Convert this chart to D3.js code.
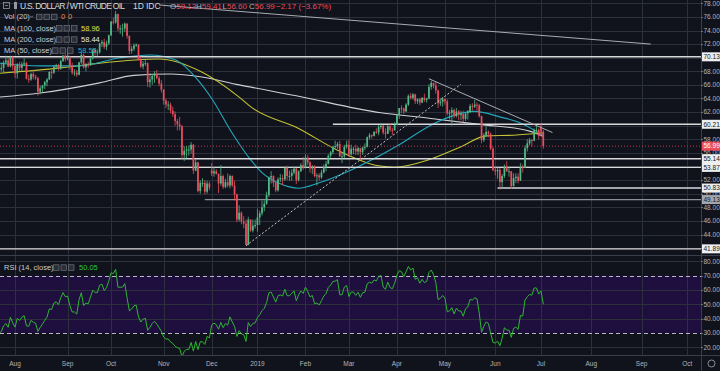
<!DOCTYPE html>
<html>
<head>
<meta charset="utf-8">
<script src="https://cdn.jsdelivr.net/npm/d3@7"></script>
<style>
  html, body { margin: 0; padding: 0; background: #10131c; }
  svg { display: block; font-family: "Liberation Sans", Arial, sans-serif; }
  .axis-text { fill: #b2b5be; font-size: 6.5px; }
  .legend { fill: #c8cad0; font-size: 7.5px; }
</style>
</head>
<body>
<script>
// ---- data (daily bars, trading days from 2018-07-23 to 2019-07-02) ----

// closes of the 14 sessions before the first visible bar, only used to seed RSI(14)
const warmupCloses = [74.1, 74.1, 72.9, 73.8, 73.9, 74.1, 70.4, 70.3, 71.0, 68.1, 68.1, 68.8, 69.5, 70.5];

const opens = [
  70.5, 68.3, 68.5, 69.3, 69.6, 68.7, 70.1,
  68.8, 67.7, 69.0, 68.5, 69.0, 69.2, 66.9, 66.8, 67.6, 67.2, 67.0, 65.0, 65.5, 65.9, 66.4, 66.8, 67.9, 67.8, 68.7, 68.9, 68.5, 69.5, 70.3,
  69.8, 69.9, 68.7, 67.8, 67.8, 67.5, 69.3, 70.4, 68.6, 69.0, 68.9, 69.9, 71.1, 70.8, 70.8, 72.1, 72.3, 71.6, 72.1,
  73.3, 75.3, 75.2, 76.4, 74.3, 74.3, 74.3, 75.0, 73.2, 71.0, 71.3, 71.8, 71.9, 69.8, 68.7, 69.1, 69.2, 66.4, 66.8, 67.3, 67.6, 67.0, 66.2,
  65.3, 63.7, 63.1, 63.1, 62.2, 61.7, 60.7, 60.2, 59.9, 55.7, 56.3, 56.5, 56.5, 57.2, 53.4, 54.6, 50.4, 51.6, 51.6, 50.3, 51.5,
  53.4, 53.0, 53.3, 52.9, 51.5, 52.6, 51.0, 51.7, 51.2, 52.6, 51.2, 49.9, 46.2, 47.2, 45.9, 45.6, 42.5, 46.2, 44.6, 45.3,
  45.4, 46.5, 47.1, 48.0, 48.5, 49.8, 52.4, 52.6, 51.6, 50.5, 52.1, 52.3, 52.1, 53.8, 52.6, 52.6, 53.1, 53.7, 52.0, 53.3, 54.2,
  53.8, 55.3, 54.6, 53.7, 54.0, 52.6, 52.7, 52.4, 53.1, 53.9, 54.4, 55.6, 56.1, 56.9, 57.0, 57.3, 55.5, 55.5, 56.9,
  57.2, 55.8, 56.6, 56.6, 56.2, 56.7, 56.1, 56.8, 56.9, 58.3, 58.6, 58.5, 59.1, 59.0, 59.8, 60.0, 59.0, 58.8, 59.9, 59.4, 59.3,
  60.1, 61.6, 62.6, 62.5, 62.1, 63.1, 64.4, 64.1, 64.6, 63.6, 63.9, 63.4, 64.1, 63.8, 64.0, 65.7, 66.3, 65.9, 65.2, 63.3, 63.5,
  63.9, 63.6, 61.8, 61.9, 62.3, 61.4, 62.1, 61.7, 61.7, 61.0, 61.8, 62.0, 62.9, 62.8, 63.1, 63.0, 61.4, 57.9, 58.6, 59.1, 58.8, 56.6,
  53.5, 53.3, 53.5, 51.7, 52.6, 54.0, 53.3, 53.3, 51.1, 52.3, 52.5, 51.9, 53.9, 53.8, 56.7, 57.4, 57.9, 57.8, 59.4, 59.4,
  59.9, 59.13
];
const highs = [
  70.5, 69.3, 69.6, 70.3, 70.0, 70.3, 70.3,
  69.1, 69.2, 69.4, 69.4, 69.9, 69.4, 67.5, 67.8, 68.2, 67.5, 67.2, 65.9, 66.0, 66.6, 67.0, 68.0, 68.2, 68.9, 69.1, 69.1, 69.7, 70.4, 70.5,
  71.4, 70.3, 69.3, 68.3, 68.2, 69.4, 70.8, 70.6, 69.2, 69.4, 69.9, 71.3, 71.4, 71.2, 72.2, 72.6, 72.8, 72.5, 73.4,
  75.4, 75.9, 76.9, 76.5, 74.8, 75.0, 75.2, 75.1, 73.3, 71.7, 72.1, 72.1, 72.0, 70.2, 69.5, 69.7, 69.3, 67.7, 67.6, 68.0, 68.2, 67.3, 66.7,
  65.4, 64.0, 63.6, 63.4, 62.8, 62.1, 61.0, 61.3, 60.1, 57.0, 57.0, 57.1, 57.6, 57.3, 55.1, 54.7, 52.0, 52.3, 52.0, 51.9, 51.8,
  54.5, 53.9, 53.6, 53.0, 54.2, 52.8, 52.2, 53.0, 52.8, 52.7, 51.9, 50.0, 48.3, 47.4, 46.7, 46.2, 46.6, 46.2, 46.2, 46.2,
  47.8, 47.5, 49.0, 49.0, 50.3, 52.5, 53.3, 52.7, 51.7, 52.4, 52.9, 52.8, 54.0, 54.1, 53.4, 53.6, 54.0, 53.8, 53.4, 54.5, 55.4,
  55.8, 55.7, 54.8, 54.2, 54.2, 53.0, 53.0, 53.5, 54.3, 54.8, 55.8, 56.3, 57.0, 57.8, 57.6, 57.8, 56.1, 57.2, 57.8,
  57.9, 57.2, 56.9, 57.2, 56.9, 56.7, 56.9, 57.4, 58.4, 58.9, 58.7, 59.2, 59.6, 60.1, 60.4, 60.1, 59.6, 60.1, 60.4, 59.7, 60.5,
  61.7, 62.6, 63.0, 62.7, 63.3, 64.6, 64.8, 64.8, 64.7, 64.0, 64.1, 64.2, 64.7, 64.1, 66.1, 66.6, 66.3, 66.5, 65.3, 64.0, 64.2,
  64.0, 63.9, 62.3, 62.7, 62.5, 62.6, 62.3, 62.2, 62.2, 62.0, 62.3, 63.2, 63.3, 63.8, 63.4, 63.2, 61.5, 58.9, 59.9, 59.3, 59.0, 56.9,
  54.0, 53.9, 53.8, 52.9, 54.3, 54.8, 53.9, 53.3, 53.0, 53.0, 53.0, 54.5, 54.3, 57.1, 58.0, 58.2, 58.0, 59.6, 59.9, 59.6,
  60.3, 59.41
];
const lows = [
  67.9, 68.0, 67.8, 69.1, 68.6, 68.6, 68.2,
  67.0, 66.9, 68.0, 68.0, 68.8, 66.8, 66.3, 66.6, 66.8, 66.7, 64.4, 64.6, 64.9, 65.4, 65.8, 66.7, 66.9, 67.6, 68.3, 68.1, 68.2, 69.4, 69.4,
  69.6, 68.2, 67.5, 67.3, 67.2, 67.4, 69.1, 68.4, 68.0, 68.5, 68.8, 69.7, 70.3, 70.2, 70.6, 71.6, 71.3, 71.1, 71.9,
  73.2, 74.9, 75.0, 73.9, 73.5, 73.1, 73.8, 72.8, 70.5, 70.6, 71.0, 71.6, 69.6, 68.5, 68.3, 68.8, 65.7, 65.6, 66.0, 66.3, 66.8, 65.8, 64.9,
  63.1, 62.6, 62.3, 61.8, 61.3, 60.0, 59.3, 59.3, 55.1, 54.8, 55.2, 55.6, 55.9, 52.9, 53.3, 50.2, 50.0, 51.0, 49.9, 50.0, 50.5,
  52.6, 52.5, 52.8, 50.1, 51.2, 50.7, 50.8, 50.9, 50.8, 51.0, 49.0, 45.8, 45.9, 45.5, 44.9, 42.4, 42.4, 44.4, 44.3, 44.9,
  44.4, 45.4, 46.8, 47.4, 48.4, 49.5, 51.5, 51.0, 50.2, 50.3, 51.7, 51.3, 51.9, 52.0, 51.9, 51.9, 52.8, 51.4, 51.8, 53.2, 53.5,
  53.7, 54.2, 53.1, 52.9, 52.4, 51.2, 51.9, 52.2, 53.0, 53.3, 54.3, 55.3, 55.8, 56.5, 56.6, 55.4, 54.5, 55.2, 56.6,
  55.4, 55.6, 55.8, 55.7, 55.7, 55.1, 55.7, 56.4, 56.8, 58.0, 58.1, 58.4, 58.8, 58.6, 59.5, 58.7, 58.1, 58.8, 59.1, 58.6, 59.3,
  60.1, 61.0, 61.9, 61.7, 62.0, 62.9, 63.9, 63.8, 63.2, 63.2, 63.0, 63.3, 63.5, 63.4, 63.9, 65.3, 65.5, 64.7, 62.6, 62.9, 62.8,
  63.1, 61.5, 60.9, 60.0, 61.1, 61.2, 60.8, 60.8, 60.5, 60.7, 60.9, 61.9, 62.2, 62.6, 62.2, 61.2, 57.4, 57.6, 58.3, 58.3, 56.4, 53.3,
  52.7, 52.2, 50.6, 50.7, 52.3, 53.2, 52.5, 50.7, 51.1, 51.6, 51.5, 51.9, 53.1, 53.8, 56.2, 57.1, 56.9, 57.7, 58.9, 58.0,
  58.4, 56.60
];
const closes = [
  68.3, 68.5, 69.3, 69.6, 68.7, 70.1, 68.8,
  67.7, 69.0, 68.5, 69.0, 69.2, 66.9, 66.8, 67.6, 67.2, 67.0, 65.0, 65.5, 65.9, 66.4, 66.8, 67.9, 67.8, 68.7, 68.9, 68.5, 69.5, 70.3, 69.8,
  69.9, 68.7, 67.8, 67.8, 67.5, 69.3, 70.4, 68.6, 69.0, 68.9, 69.9, 71.1, 70.8, 70.8, 72.1, 72.3, 71.6, 72.1, 73.3,
  75.3, 75.2, 76.4, 74.3, 74.3, 74.3, 75.0, 73.2, 71.0, 71.3, 71.8, 71.9, 69.8, 68.7, 69.1, 69.2, 66.4, 66.8, 67.3, 67.6, 67.0, 66.2, 65.3,
  63.7, 63.1, 63.1, 62.2, 61.7, 60.7, 60.2, 59.9, 55.7, 56.3, 56.5, 56.5, 57.2, 53.4, 54.6, 50.4, 51.6, 51.6, 50.3, 51.5, 50.9,
  53.0, 53.3, 52.9, 51.5, 52.6, 51.0, 51.7, 51.2, 52.6, 51.2, 49.9, 46.2, 47.2, 45.9, 45.6, 42.5, 46.2, 44.6, 45.3, 45.4,
  46.5, 47.1, 48.0, 48.5, 49.8, 52.4, 52.6, 51.6, 50.5, 52.1, 52.3, 52.1, 53.8, 52.6, 52.6, 53.1, 53.7, 52.0, 53.3, 54.2, 53.8,
  55.3, 54.6, 53.7, 54.0, 52.6, 52.7, 52.4, 53.1, 53.9, 54.4, 55.6, 56.1, 56.9, 57.0, 57.3, 55.5, 55.5, 56.9, 57.2,
  55.8, 56.6, 56.6, 56.2, 56.7, 56.1, 56.8, 56.9, 58.3, 58.6, 58.5, 59.1, 59.0, 59.8, 60.0, 59.0, 58.8, 59.9, 59.4, 59.3, 60.1,
  61.6, 62.6, 62.5, 62.1, 63.1, 64.4, 64.1, 64.6, 63.6, 63.9, 63.4, 64.1, 63.8, 64.0, 65.7, 66.3, 65.9, 65.2, 63.3, 63.5, 63.9,
  63.6, 61.8, 61.9, 62.3, 61.4, 62.1, 61.7, 61.7, 61.0, 61.8, 62.0, 62.9, 62.8, 63.1, 63.0, 61.4, 57.9, 58.6, 59.1, 58.8, 56.6, 53.5,
  53.3, 53.5, 51.7, 52.6, 54.0, 53.3, 53.3, 51.1, 52.3, 52.5, 51.9, 53.9, 53.8, 56.7, 57.4, 57.9, 57.8, 59.4, 59.4, 58.5,
  59.16, 56.99
];

// moving averages (date, value)
const ma50 = [
  ["2018-07-23", 69.2], ["2018-08-16", 68.8], ["2018-09-11", 68.8], ["2018-10-05", 70.0], ["2018-10-24", 70.4],
  ["2018-11-08", 69.7], ["2018-11-23", 66.7], ["2018-12-03", 64.0], ["2018-12-14", 58.9], ["2018-12-27", 55.0],
  ["2019-01-04", 53.1], ["2019-01-15", 51.6], ["2019-01-23", 51.0], ["2019-01-29", 50.8], ["2019-02-11", 51.6],
  ["2019-03-04", 53.5], ["2019-03-21", 55.7], ["2019-04-02", 57.2], ["2019-04-23", 60.1], ["2019-05-03", 61.3],
  ["2019-05-20", 62.1], ["2019-06-05", 61.3], ["2019-06-18", 60.4], ["2019-07-02", 58.55]
];
const ma100 = [
  ["2018-07-23", 67.7], ["2018-08-29", 68.5], ["2018-09-24", 69.2], ["2018-10-30", 69.8], ["2018-11-26", 68.0],
  ["2018-12-19", 64.2], ["2018-12-27", 62.8], ["2019-01-29", 59.6], ["2019-02-22", 56.4], ["2019-03-20", 54.1],
  ["2019-03-29", 53.9], ["2019-04-22", 55.0], ["2019-05-10", 56.9], ["2019-05-28", 58.5], ["2019-06-13", 58.6],
  ["2019-07-02", 58.96]
];
const ma200 = [
  ["2018-07-23", 64.2], ["2018-08-16", 64.8], ["2018-09-24", 66.3], ["2018-10-15", 67.4], ["2018-11-06", 67.6],
  ["2018-11-26", 67.2], ["2018-12-19", 66.0], ["2019-01-28", 64.4], ["2019-03-21", 61.9], ["2019-04-22", 61.1],
  ["2019-05-22", 60.2], ["2019-06-24", 59.2], ["2019-07-02", 58.44]
];

// drawn levels: price and first date (null = whole width)
const levelPrices = [70.13, 60.21, 55.14, 53.87, 50.83, 49.13, 41.89];
const levelStarts = [null, "2019-02-20", null, null, "2019-06-04", "2018-11-28", null];

// drawn trend lines: [start, end] as [date, price]
const trendLines = [
  [["2018-10-30", 77.75], ["2019-09-09", 72.0]],
  [["2019-04-22", 66.9], ["2019-07-09", 59.0]]
];
const dashedTrend = [["2018-12-24", 42.35], ["2019-05-10", 66.1]];

const lastPrice = 56.99;
const priceTicks = d3.range(42, 79, 2);
const rsiTicks = [20, 30, 40, 50, 60, 70, 80];
const holidays = ["2018-09-03", "2018-11-22", "2018-12-25", "2019-01-01", "2019-01-21", "2019-02-18",
                  "2019-04-19", "2019-05-27", "2019-07-04", "2019-09-02"];
const monthNames = ["Jan","Feb","Mar","Apr","May","Jun","Jul","Aug","Sep","Oct","Nov","Dec"];

// ---- layout ----
const W = 720, H = 371;
const plotRight = 701;
const priceBottom = 255, rsiTop = 256, rsiBottom = 355;
const bg = "#10131c", gridCol = "#2c303b";
const upCol = "#53b987", downCol = "#eb4d5c";

// trading calendar (weekdays without exchange holidays)
const fmt = d3.utcFormat("%Y-%m-%d");
const days = d3.utcDays(new Date(Date.UTC(2018, 6, 23)), new Date(Date.UTC(2019, 10, 1)))
  .filter(d => d.getUTCDay() % 6 !== 0 && !holidays.includes(fmt(d)));
const dayIndex = new Map(days.map((d, i) => [fmt(d), i]));
const idx = s => dayIndex.get(s);

const x = d3.scaleLinear().domain([0, 307]).range([-1, 701.1]);
const y = d3.scaleLinear().domain([78, 44]).range([3.3, 234.5]);
const yr = d3.scaleLinear().domain([80, 20]).range([261.3, 347.3]);

const svg = d3.select("body").append("svg").attr("width", W).attr("height", H);
svg.append("rect").attr("width", W).attr("height", H).attr("fill", bg);

const defs = svg.append("defs");
defs.append("clipPath").attr("id", "clipPrice")
  .append("rect").attr("x", 0).attr("y", 0).attr("width", plotRight).attr("height", priceBottom);
defs.append("clipPath").attr("id", "clipRsi")
  .append("rect").attr("x", 0).attr("y", rsiTop).attr("width", plotRight).attr("height", rsiBottom - rsiTop);

// RSI band
svg.append("rect").attr("x", 0).attr("width", plotRight)
  .attr("y", yr(70)).attr("height", yr(30) - yr(70)).attr("fill", "#1e0f3f");

// month ticks
const monthTicks = days.filter((d, i) => i === 0 || d.getUTCMonth() !== days[i - 1].getUTCMonth())
  .filter(d => fmt(d) >= "2018-08-01")
  .map(d => ({ i: idx(fmt(d)), label: d.getUTCMonth() === 0 ? String(d.getUTCFullYear()) : monthNames[d.getUTCMonth()] }))
  .filter(t => x(t.i) < plotRight - 4);

const grid = svg.append("g").attr("stroke", gridCol).attr("stroke-width", 1);
grid.selectAll(".vg").data(monthTicks).join("line")
  .attr("x1", d => Math.round(x(d.i)) + 0.5).attr("x2", d => Math.round(x(d.i)) + 0.5)
  .attr("y1", 0).attr("y2", rsiBottom);
grid.selectAll(".hg").data(priceTicks).join("line")
  .attr("x1", 0).attr("x2", plotRight)
  .attr("y1", d => Math.round(y(d)) + 0.5).attr("y2", d => Math.round(y(d)) + 0.5);
grid.selectAll(".rg").data(rsiTicks.filter(v => v !== 70 && v !== 30)).join("line")
  .attr("x1", 0).attr("x2", plotRight)
  .attr("y1", d => Math.round(yr(d)) + 0.5).attr("y2", d => Math.round(yr(d)) + 0.5);

// RSI 70 / 30 dashed
svg.append("g").selectAll("line").data([70, 30]).join("line")
  .attr("x1", 0).attr("x2", plotRight)
  .attr("y1", d => Math.round(yr(d)) + 0.5).attr("y2", d => Math.round(yr(d)) + 0.5)
  .attr("stroke", "#b8b8c0").attr("stroke-dasharray", "4,3");

// pane separators
svg.append("line").attr("x1", 0).attr("x2", W).attr("y1", priceBottom + 0.5).attr("y2", priceBottom + 0.5).attr("stroke", "#3a3e4a");
svg.append("line").attr("x1", 0).attr("x2", W).attr("y1", rsiBottom + 0.5).attr("y2", rsiBottom + 0.5).attr("stroke", "#3a3e4a");
svg.append("line").attr("x1", plotRight + 0.5).attr("x2", plotRight + 0.5).attr("y1", 0).attr("y2", H).attr("stroke", "#3a3e4a");

const pricePane = svg.append("g").attr("clip-path", "url(#clipPrice)");

// moving averages
const maLine = d3.line().x(d => x(idx(d[0]))).y(d => y(d[1])).curve(d3.curveMonotoneX);
[[ma200, "#cfd0d4"], [ma100, "#c2c234"], [ma50, "#22a8bb"]].forEach(([data, col]) => {
  pricePane.append("path").datum(data).attr("d", maLine)
    .attr("fill", "none").attr("stroke", col).attr("stroke-width", 1.1);
});

// horizontal levels
pricePane.selectAll(".lvl").data(levelPrices).join("line")
  .attr("x1", (d, i) => levelStarts[i] ? x(idx(levelStarts[i])) : 0)
  .attr("x2", plotRight)
  .attr("y1", d => y(d)).attr("y2", d => y(d))
  .attr("stroke", d => d === 49.13 ? "#8d9099" : "#d9d9dc").attr("stroke-width", 1.4);

// last price line
pricePane.append("line").attr("x1", 0).attr("x2", plotRight)
  .attr("y1", y(lastPrice)).attr("y2", y(lastPrice))
  .attr("stroke", "#b8384a").attr("stroke-dasharray", "1,2");

// candles
const bars = closes.map((c, i) => ({ i, o: opens[i], h: highs[i], l: lows[i], c }));
const candles = pricePane.append("g");
candles.selectAll("line").data(bars).join("line")
  .attr("x1", d => x(d.i)).attr("x2", d => x(d.i))
  .attr("y1", d => y(d.h)).attr("y2", d => y(d.l))
  .attr("stroke", d => d.c >= d.o ? upCol : downCol).attr("stroke-width", 0.8);
candles.selectAll("rect").data(bars).join("rect")
  .attr("x", d => x(d.i) - 0.85).attr("width", 1.7)
  .attr("y", d => y(Math.max(d.o, d.c)))
  .attr("height", d => Math.max(1, Math.abs(y(d.o) - y(d.c))))
  .attr("fill", d => d.c >= d.o ? upCol : downCol);

// trend lines
pricePane.selectAll(".tl").data(trendLines).join("line")
  .attr("x1", d => x(idx(d[0][0]))).attr("y1", d => y(d[0][1]))
  .attr("x2", d => x(idx(d[1][0]))).attr("y2", d => y(d[1][1]))
  .attr("stroke", "#a9abb2").attr("stroke-width", 1);
pricePane.append("line")
  .attr("x1", x(idx(dashedTrend[0][0]))).attr("y1", y(dashedTrend[0][1]))
  .attr("x2", x(idx(dashedTrend[1][0]))).attr("y2", y(dashedTrend[1][1]))
  .attr("stroke", "#c8c8cc").attr("stroke-width", 1).attr("stroke-dasharray", "2,2");

// RSI(14) from closes
const allCloses = warmupCloses.concat(closes);
const rsi = [];
let avgG = 0, avgL = 0;
for (let k = 1; k < allCloses.length; k++) {
  const diff = allCloses[k] - allCloses[k - 1];
  const g = Math.max(diff, 0), l = Math.max(-diff, 0);
  if (k <= 14) { avgG += g / 14; avgL += l / 14; }
  else { avgG = (avgG * 13 + g) / 14; avgL = (avgL * 13 + l) / 14; }
  const bar = k - warmupCloses.length;
  if (bar >= 0) rsi.push([bar, avgL === 0 ? 100 : 100 - 100 / (1 + avgG / avgL)]);
}
svg.append("g").attr("clip-path", "url(#clipRsi)").append("path").datum(rsi)
  .attr("d", d3.line().x(d => x(d[0])).y(d => yr(d[1])))
  .attr("fill", "none").attr("stroke", "#2fb532").attr("stroke-width", 1);

// ---- axes ----
const labelX = 703.5;
const pAxis = svg.append("g");
pAxis.selectAll("text").data(priceTicks).join("text")
  .attr("class", "axis-text").attr("x", labelX).attr("y", d => y(d) + 2.3)
  .text(d => d.toFixed(2));
pAxis.selectAll("line").data(priceTicks).join("line")
  .attr("x1", plotRight).attr("x2", plotRight + 2)
  .attr("y1", d => Math.round(y(d)) + 0.5).attr("y2", d => Math.round(y(d)) + 0.5)
  .attr("stroke", "#6b6e78");

const rAxis = svg.append("g");
rAxis.selectAll("text").data(rsiTicks).join("text")
  .attr("class", "axis-text").attr("x", labelX).attr("y", d => yr(d) + 2.3)
  .text(d => d.toFixed(2));
rAxis.selectAll("line").data(rsiTicks).join("line")
  .attr("x1", plotRight).attr("x2", plotRight + 2)
  .attr("y1", d => Math.round(yr(d)) + 0.5).attr("y2", d => Math.round(yr(d)) + 0.5)
  .attr("stroke", "#6b6e78");

// level boxes on the price axis
const boxes = levelPrices.map(p => ({ p, fill: p === 49.13 ? "#a3a6ae" : "#eeeeee", col: "#131722" }))
  .concat([{ p: lastPrice, fill: "#eb4d5c", col: "#ffffff" }]);
const bx = svg.append("g").selectAll("g").data(boxes).join("g");
bx.append("rect").attr("x", plotRight + 1).attr("width", W - plotRight - 1)
  .attr("y", d => y(d.p) - 4.5).attr("height", 9).attr("fill", d => d.fill);
bx.append("text").attr("x", labelX).attr("y", d => y(d.p) + 2.3)
  .attr("font-size", 6.5).attr("fill", d => d.col).text(d => d.p.toFixed(2));

// time axis
svg.append("g").selectAll("text").data(monthTicks).join("text")
  .attr("class", "axis-text").attr("x", d => x(d.i)).attr("y", 366)
  .attr("text-anchor", "middle").text(d => d.label);
svg.append("circle").attr("cx", 711.5).attr("cy", 363.5).attr("r", 3.5)
  .attr("fill", "none").attr("stroke", "#9598a1").attr("stroke-width", 0.9);

// ---- header & legends ----
const head = svg.append("g");
head.append("rect").attr("x", 3.5).attr("y", 2.5).attr("width", 6).attr("height", 6)
  .attr("fill", "none").attr("stroke", "#9598a1").attr("stroke-width", 0.8);
head.append("line").attr("x1", 5).attr("x2", 8).attr("y1", 5.5).attr("y2", 5.5).attr("stroke", "#9598a1").attr("stroke-width", 0.8);
head.append("rect").attr("x", 14).attr("y", 2).attr("width", 3).attr("height", 7).attr("fill", "#9598a1");
head.append("text").attr("x", 20).attr("y", 8.8).attr("fill", "#d8dadf").attr("font-size", 8.5)
  .attr("textLength", 105).attr("lengthAdjust", "spacing")
  .text("U.S. DOLLAR / WTI CRUDE OIL");
head.append("text").attr("x", 133).attr("y", 8.8).attr("fill", "#d8dadf").attr("font-size", 8.5).text("1D");
head.append("text").attr("x", 146).attr("y", 8.8).attr("fill", "#d8dadf").attr("font-size", 8.5).text("IDC");

const ohlc = [["O", "59.13", 170], ["H", "59.41", 196], ["L", "56.60", 222.5], ["C", "56.99", 249]];
ohlc.forEach(([k, v, px]) => {
  const t = head.append("text").attr("x", px).attr("y", 8.8).attr("font-size", 8);
  t.append("tspan").attr("fill", "#b2b5be").text(k);
  t.append("tspan").attr("fill", "#eb4d5c").text(v);
});
head.append("text").attr("x", 276).attr("y", 8.8).attr("font-size", 8)
  .attr("fill", "#eb4d5c").text("\u22122.17 (\u22123.67%)");

function legendRow(yc, label, boxStart, values) {
  const g = svg.append("g");
  g.append("text").attr("class", "legend").attr("x", 4).attr("y", yc + 2.6).text(label);
  g.append("path").attr("d", `M${boxStart - 6},${yc - 1} l1.5,1.5 l1.5,-1.5`)
    .attr("fill", "none").attr("stroke", "#9598a1").attr("stroke-width", 0.8);
  [0, 7.5, 15].forEach(o => {
    g.append("rect").attr("x", boxStart + o + 0.5).attr("y", yc - 2.5).attr("width", 5.5).attr("height", 5.5)
      .attr("fill", "#2a2e39").attr("stroke", "#70737d").attr("stroke-width", 0.7);
  });
  values.forEach(([txt, col, dx]) => {
    g.append("text").attr("x", boxStart + dx).attr("y", yc + 2.6)
      .attr("font-size", 7.5).attr("fill", col).text(txt);
  });
}
legendRow(16.7, "Vol (20)", 36, [["0", "#f08a4b", 25], ["0", "#f08a4b", 32]]);
legendRow(28, "MA (100, close)", 56, [["58.96", "#e0e040", 25]]);
legendRow(39.3, "MA (200, close)", 56, [["58.44", "#e6e6e6", 25]]);
legendRow(50.3, "MA (50, close)", 52, [["58.55", "#25b4c8", 26]]);
legendRow(267.3, "RSI (14, close)", 53, [["50.05", "#2fc437", 26]]);
</script>
</body>
</html>
